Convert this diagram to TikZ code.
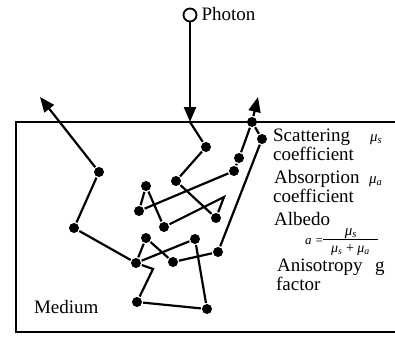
\documentclass[tikz,border=0pt]{standalone}
\usepackage{fontspec}
\setmainfont{Liberation Serif}
\usetikzlibrary{arrows.meta}
\begin{document}
\begin{tikzpicture}[x=1pt,y=-1pt,line width=2.2pt,line join=miter,
  dot/.style={circle,fill,inner sep=0pt,minimum size=10pt},
  lbl/.style={anchor=base west,inner sep=0pt,font=\fontsize{19}{21}\selectfont},
  sym/.style={anchor=base west,inner sep=0pt,font=\fontsize{15}{17}\selectfont\itshape},
  tip/.style={-{Triangle[length=15pt,width=12pt]}}]
\useasboundingbox (0,0) rectangle (395,337);
% medium box
\draw[line width=2.5pt] (395,122) -- (16,122) -- (16,332) -- (395,332);
% photon source
\node[circle,draw,line width=1.8pt,minimum size=13pt,inner sep=0pt] (ph) at (190,15) {};
\node[lbl] (phl) at (200.5,20.5) {Photon};
\coordinate (in) at (190,122);
\draw[tip] (ph) -- (in);
% scattering points
\node[dot] (d1) at (206,147) {};
\node[dot] (d2) at (176,181) {};
\node[dot] (d3) at (216,218) {};
\coordinate (c1) at (224,197);
\node[dot] (d4) at (164,227) {};
\node[dot] (d5) at (146,186) {};
\node[dot] (d6) at (139,211) {};
\node[dot] (d7) at (234,171) {};
\node[dot] (d8) at (239,158) {};
\node[dot] (d9) at (252,122) {};
\node[dot] (d10) at (262,139) {};
\node[dot] (d11) at (218,252) {};
\node[dot] (d12) at (173,262) {};
\node[dot] (d13) at (146,238) {};
\node[dot] (d14) at (136,263) {};
\node[dot] (d15) at (195,239) {};
\node[dot] (d16) at (207,309) {};
\node[dot] (d17) at (137,302) {};
\coordinate (c2) at (153,269);
\node[dot] (d18) at (74,228) {};
\node[dot] (d19) at (99,172) {};
\coordinate (t1) at (40,97);
\coordinate (t2) at (258,97);
\draw (in) -- (d1) -- (d2) -- (d3) -- (c1) -- (d4) -- (d5) -- (d6) -- (d7) -- (d8) -- (d9)
  -- (d10) -- (d11) -- (d12) -- (d13) -- (d14) -- (d15) -- (d16) -- (d17) -- (c2) -- (d14)
  -- (d18) -- (d19);
\draw[tip] (d19) -- (t1);
\draw[tip] (d9) -- (t2);
% labels
\node[lbl] (sc) at (272,141.5) {Scattering};
\node[sym] (mus) at (369,141) {μ\textsubscript{s}};
\node[lbl] (co1) at (272,160.5) {coefficient};
\node[lbl] (ab) at (273,183.5) {Absorption};
\node[sym] (mua) at (368,183) {μ\textsubscript{a}};
\node[lbl] (co2) at (272,202.5) {coefficient};
\node[lbl] (al) at (273,225.5) {Albedo};
\node[sym,font=\fontsize{13}{15}\selectfont\itshape] (aeq) at (304,244) {a =};
\node[sym,anchor=base] (num) at (351,235) {μ\textsubscript{s}};
\draw[line width=0.9pt] (323,239.5) -- (378,239.5);
\node[sym,anchor=base,font=\fontsize{14}{16}\selectfont\itshape] (den) at (350.5,252) {μ\textsubscript{s} \upshape+ \itshape μ\textsubscript{a}};
\node[lbl] (an) at (276,271) {Anisotropy};
\node[lbl] (g) at (374,271) {g};
\node[lbl] (fa) at (275,290.5) {factor};
\node[lbl] (me) at (33,313.5) {Medium};
\end{tikzpicture}
\end{document}
